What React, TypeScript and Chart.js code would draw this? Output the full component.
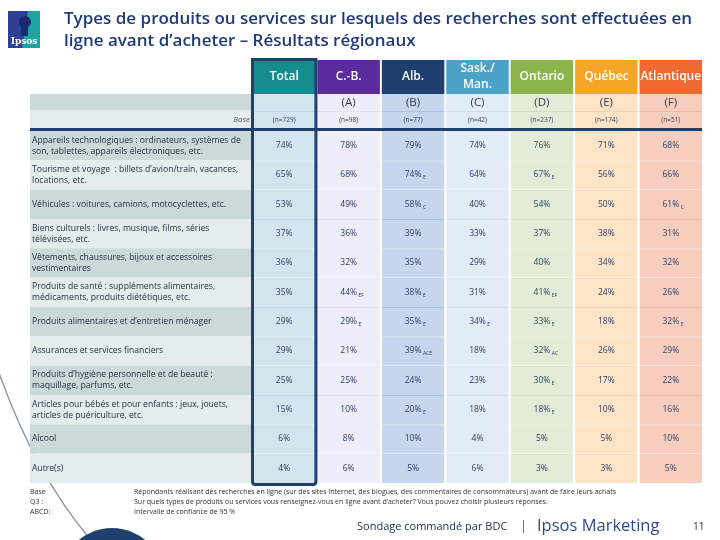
import React, { useEffect, useRef } from 'react';
import { Chart, registerables } from 'chart.js';

Chart.register(...registerables);

const titleLines = [
  'Types de produits ou services sur lesquels des recherches sont effectuées en',
  'ligne avant d’acheter – Résultats régionaux',
];
const columns = ['Total', 'C.-B.', 'Alb.', 'Sask./Man.', 'Ontario', 'Québec', 'Atlantique'];
const headerLines = [['Total'], ['C.-B.'], ['Alb.'], ['Sask./', 'Man.'], ['Ontario'], ['Québec'], ['Atlantique']];
const columnLetters = ['', '(A)', '(B)', '(C)', '(D)', '(E)', '(F)'];
const baseSizes = ['(n=729)', '(n=98)', '(n=77)', '(n=42)', '(n=237)', '(n=174)', '(n=51)'];

const rowLabels: string[][] = [
  ['Appareils technologiques : ordinateurs, systèmes de', 'son, tablettes, appareils électroniques, etc.'],
  ['Tourisme et voyage  : billets d’avion/train, vacances,', 'locations, etc.'],
  ['Véhicules : voitures, camions, motocyclettes, etc.'],
  ['Biens culturels : livres, musique, films, séries', 'télévisées, etc.'],
  ['Vêtements, chaussures, bijoux et accessoires', 'vestimentaires'],
  ['Produits de santé : suppléments alimentaires,', 'médicaments, produits diététiques, etc.'],
  ['Produits alimentaires et d’entretien ménager'],
  ['Assurances et services financiers'],
  ['Produits d’hygiène personnelle et de beauté :', 'maquillage, parfums, etc.'],
  ['Articles pour bébés et pour enfants : jeux, jouets,', 'articles de puériculture, etc.'],
  ['Alcool'],
  ['Autre(s)'],
];

const totalValues = [74, 65, 53, 37, 36, 35, 29, 29, 25, 15, 6, 4];
const cbValues = [78, 68, 49, 36, 32, 44, 29, 21, 25, 10, 8, 6];
const albValues = [79, 74, 58, 39, 35, 38, 35, 39, 24, 20, 10, 5];
const saskValues = [74, 64, 40, 33, 29, 31, 34, 18, 23, 18, 4, 6];
const ontValues = [76, 67, 54, 37, 40, 41, 33, 32, 30, 18, 5, 3];
const qcValues = [71, 56, 50, 38, 34, 24, 18, 26, 17, 10, 5, 3];
const atlValues = [68, 66, 61, 31, 32, 26, 32, 29, 22, 16, 10, 5];

const totalSig = ['', '', '', '', '', '', '', '', '', '', '', ''];
const cbSig = ['', '', '', '', '', 'EF', 'E', '', '', '', '', ''];
const albSig = ['', 'E', 'C', '', '', 'E', 'E', 'ACE', '', 'E', '', ''];
const saskSig = ['', '', '', '', '', '', 'E', '', '', '', '', ''];
const ontSig = ['', 'E', '', '', '', 'EF', 'E', 'AC', 'E', 'E', '', ''];
const qcSig = ['', '', '', '', '', '', '', '', '', '', '', ''];
const atlSig = ['', '', 'C', '', '', '', 'E', '', '', '', '', ''];

const columnValues = [totalValues, cbValues, albValues, saskValues, ontValues, qcValues, atlValues];
const columnSig = [totalSig, cbSig, albSig, saskSig, ontSig, qcSig, atlSig];

const headerColors = ['#168c8f', '#5a2b9d', '#1f3f6e', '#4da2c8', '#8cb64c', '#f6a72a', '#ee6a30'];
const bodyColors = ['#d3e4ee', '#efedf9', '#c5d6ee', '#e2ecf6', '#e2ecd7', '#fde4c6', '#f7cdbd'];
const lineColors = ['#c4d7e4', '#e2dff1', '#adc3e3', '#cfdcec', '#d0dec2', '#f4d3b0', '#ecbba8'];

const footLabels = ['Base', 'Q3 :', 'ABCD:'];
const footTexts = [
  'Répondants réalisant des recherches en ligne (sur des sites Internet, des blogues, des commentaires de consommateurs) avant de faire leurs achats',
  'Sur quels types de produits ou services vous renseignez-vous en ligne avant d’acheter? Vous pouvez choisir plusieurs réponses.',
  'Intervalle de confiance de 95 %',
];

const FONT = '"Open Sans", "DejaVu Sans", sans-serif';
const NAVY = '#1f3f6e';

const tablePlugin = {
  id: 'tableDeco',
  beforeDraw(chart: any) {
    const { ctx, chartArea, scales } = chart;
    const xs = scales.x;
    const ys = scales.y;
    ctx.save();
    ctx.fillStyle = '#ffffff';
    ctx.fillRect(0, 0, chart.width, chart.height);

    // decorative curve and circle
    ctx.strokeStyle = '#8f9aa4';
    ctx.lineWidth = 1.5;
    ctx.beginPath();
    ctx.moveTo(-2, 370);
    ctx.quadraticCurveTo(36, 478, 96, 546);
    ctx.stroke();
    ctx.fillStyle = NAVY;
    ctx.beginPath();
    ctx.arc(112, 580, 52, 0, Math.PI * 2);
    ctx.fill();

    // logo
    ctx.fillStyle = '#2d3f99';
    ctx.fillRect(8, 11, 32, 37);
    ctx.fillStyle = '#1ea5a2';
    ctx.beginPath();
    ctx.moveTo(28, 11);
    ctx.lineTo(40, 11);
    ctx.lineTo(40, 48);
    ctx.lineTo(22, 48);
    ctx.closePath();
    ctx.fill();
    ctx.fillStyle = '#1b2a6e';
    ctx.beginPath();
    ctx.arc(25, 22, 6, 0, Math.PI * 2);
    ctx.fill();
    ctx.fillRect(21, 26, 7, 10);
    ctx.fillStyle = '#ffffff';
    ctx.font = `bold 9px "DejaVu Serif", serif`;
    ctx.textAlign = 'center';
    ctx.textBaseline = 'middle';
    ctx.fillText('Ipsos', 24, 42);

    // title
    ctx.fillStyle = '#1e3a78';
    ctx.font = `600 17px ${FONT}`;
    ctx.textAlign = 'left';
    ctx.textBaseline = 'alphabetic';
    ctx.fillText(titleLines[0], 64, 24);
    ctx.fillText(titleLines[1], 64, 46);

    // row label bands
    const bandLeft = 30;
    const bandRight = chartArea.left;
    ctx.fillStyle = '#cbd9db';
    ctx.fillRect(bandLeft, 94, bandRight - bandLeft, 16);
    ctx.fillStyle = '#e4ecee';
    ctx.fillRect(bandLeft, 110, bandRight - bandLeft, 18);
    rowLabels.forEach((_, r) => {
      const top = ys.getPixelForValue(r - 0.5);
      const bot = ys.getPixelForValue(r + 0.5);
      ctx.fillStyle = r % 2 === 0 ? '#cbd9db' : '#e4ecee';
      ctx.fillRect(bandLeft, top, bandRight - bandLeft, bot - top);
    });
    ctx.fillStyle = '#555c66';
    ctx.font = `italic 8px ${FONT}`;
    ctx.textAlign = 'right';
    ctx.textBaseline = 'middle';
    ctx.fillText('Base', bandRight - 2, 120);

    // header cells
    const colW = xs.getPixelForValue(1) - xs.getPixelForValue(0);
    const cellW = colW * 0.97;
    columns.forEach((_, i) => {
      const cx = xs.getPixelForValue(i);
      const left = cx - cellW / 2;
      ctx.fillStyle = headerColors[i];
      ctx.fillRect(left, 60, cellW, 34);
      ctx.fillStyle = bodyColors[i];
      ctx.fillRect(left, 94, cellW, 34);
      ctx.fillStyle = lineColors[i];
      ctx.fillRect(left, 111, cellW, 1);
      ctx.fillStyle = '#ffffff';
      ctx.font = `600 12px ${FONT}`;
      ctx.textAlign = 'center';
      ctx.textBaseline = 'middle';
      const lines = headerLines[i];
      if (lines.length === 1) {
        ctx.fillText(lines[0], cx, 77);
      } else {
        ctx.fillText(lines[0], cx, 69);
        ctx.fillText(lines[1], cx, 85);
      }
      ctx.fillStyle = '#2f3b55';
      ctx.font = `11.5px ${FONT}`;
      ctx.fillText(columnLetters[i], cx, 103);
      ctx.font = `6.5px ${FONT}`;
      ctx.fillText(baseSizes[i], cx, 120.5);
    });

    // footer
    ctx.fillStyle = '#333333';
    ctx.font = `7px ${FONT}`;
    ctx.textAlign = 'left';
    ctx.textBaseline = 'middle';
    footLabels.forEach((t, i) => ctx.fillText(t, 30, 492 + i * 10));
    footTexts.forEach((t, i) => ctx.fillText(t, 134, 492 + i * 10));

    ctx.textBaseline = 'alphabetic';
    ctx.fillStyle = '#1f2d50';
    ctx.font = `11px ${FONT}`;
    ctx.fillText('Sondage commandé par BDC', 357, 530);
    ctx.fillStyle = '#d9343c';
    ctx.font = `13px ${FONT}`;
    ctx.fillText('|', 520, 530);
    ctx.fillStyle = '#2f4b8c';
    ctx.font = `16.5px ${FONT}`;
    ctx.fillText('Ipsos Marketing', 537, 531);
    ctx.fillStyle = '#333333';
    ctx.font = `10px ${FONT}`;
    ctx.fillText('11', 693, 530);
    ctx.restore();
  },
  afterDatasetsDraw(chart: any) {
    const { ctx, chartArea, scales } = chart;
    const xs = scales.x;
    const ys = scales.y;
    ctx.save();
    ctx.textBaseline = 'middle';
    columns.forEach((_, c) => {
      const cx = xs.getPixelForValue(c);
      columnValues[c].forEach((v, r) => {
        const cy = ys.getPixelForValue(r);
        const txt = `${v}%`;
        ctx.font = `8.5px ${FONT}`;
        ctx.fillStyle = '#2b3f66';
        ctx.textAlign = 'center';
        ctx.fillText(txt, cx, cy);
        const sig = columnSig[c][r];
        if (sig) {
          const w = ctx.measureText(txt).width;
          ctx.font = `5px ${FONT}`;
          ctx.textAlign = 'left';
          ctx.fillText(sig, cx + w / 2 + 1.5, cy + 3);
        }
      });
    });

    // thick line under header
    const colW = xs.getPixelForValue(1) - xs.getPixelForValue(0);
    const lastRight = xs.getPixelForValue(columns.length - 1) + (colW * 0.97) / 2;
    ctx.strokeStyle = NAVY;
    ctx.lineWidth = 3;
    ctx.beginPath();
    ctx.moveTo(30, chartArea.top - 1.5);
    ctx.lineTo(lastRight, chartArea.top - 1.5);
    ctx.stroke();

    // Total column frame
    const tx = xs.getPixelForValue(0);
    const l = tx - colW / 2 + 0.5;
    const rr = tx + colW / 2 - 0.5;
    const top = 59.5;
    const bottom = chartArea.bottom + 1.5;
    const rad = 3;
    ctx.beginPath();
    ctx.moveTo(l, top);
    ctx.lineTo(rr, top);
    ctx.lineTo(rr, bottom - rad);
    ctx.quadraticCurveTo(rr, bottom, rr - rad, bottom);
    ctx.lineTo(l + rad, bottom);
    ctx.quadraticCurveTo(l, bottom, l, bottom - rad);
    ctx.closePath();
    ctx.stroke();
    ctx.restore();
  },
};

export default function App() {
  const canvasRef = useRef<HTMLCanvasElement | null>(null);

  useEffect(() => {
    const canvas = canvasRef.current;
    if (!canvas) return;
    const datasets = rowLabels.map((_, r) => ({
      type: 'bar' as const,
      label: `row${r}`,
      data: columns.map(() => [r - 0.5, r + 0.5]),
      backgroundColor: bodyColors,
      borderColor: lineColors,
      borderWidth: { top: r === 0 ? 0 : 1, bottom: 0, left: 0, right: 0 },
      borderSkipped: false,
      grouped: false,
      barPercentage: 0.97,
      categoryPercentage: 1,
    }));
    const chart = new Chart(canvas, {
      type: 'bar',
      data: { labels: columns, datasets: datasets as any },
      options: {
        responsive: false,
        animation: false,
        devicePixelRatio: 1,
        layout: { padding: { left: 32, right: 17, top: 131, bottom: 57 } },
        plugins: {
          legend: { display: false },
          tooltip: { enabled: false },
          title: { display: false },
        },
        scales: {
          x: {
            type: 'category',
            display: false,
            offset: true,
            grid: { display: false },
          },
          y: {
            type: 'linear',
            min: -0.5,
            max: rowLabels.length - 0.5,
            reverse: true,
            position: 'left',
            grid: { display: false },
            border: { display: false },
            afterBuildTicks: (axis: any) => {
              axis.ticks = rowLabels.map((_, i) => ({ value: i }));
            },
            afterFit: (axis: any) => {
              axis.width = 220;
            },
            ticks: {
              autoSkip: false,
              crossAlign: 'far',
              padding: 0,
              color: '#27313f',
              font: { family: FONT, size: 8.6, lineHeight: 1.3 },
              callback: (v: any) => rowLabels[Number(v)] ?? '',
            },
          },
        },
      } as any,
      plugins: [tablePlugin],
    });
    return () => chart.destroy();
  }, []);

  return (
    <div style={{ position: 'fixed', left: 0, top: 0, width: 720, height: 540, background: '#fff' }}>
      <canvas ref={canvasRef} width={720} height={540} style={{ display: 'block' }} />
    </div>
  );
}
